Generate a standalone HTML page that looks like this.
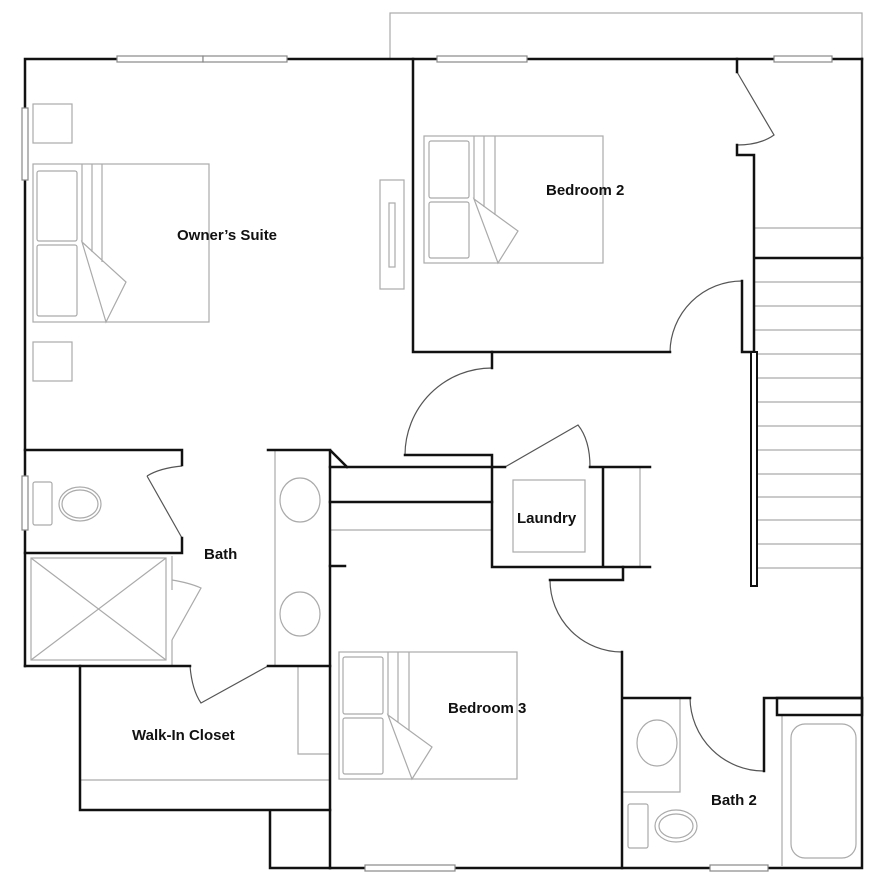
<!DOCTYPE html>
<html><head><meta charset="utf-8"><style>
html,body{margin:0;padding:0;background:#fff;}
svg{display:block}
text{font-family:"Liberation Sans",sans-serif;font-size:15px;font-weight:bold;fill:#111;}
</style></head><body>
<svg width="883" height="889" viewBox="0 0 883 889" xmlns="http://www.w3.org/2000/svg">
<g fill="none" stroke="#aaa" stroke-width="1.2">
<rect x="390" y="13" width="472" height="46"/>
<!-- owner's bed -->
<rect x="33" y="164" width="176" height="158"/>
<rect x="37" y="171" width="40" height="70" rx="2"/>
<rect x="37" y="245" width="40" height="71" rx="2"/>
<path d="M82 164V242M92 164V252M102 164V262M82 242L126 282L106 322Z"/>
<rect x="33" y="104" width="39" height="39"/>
<rect x="33" y="342" width="39" height="39"/>
<rect x="380" y="180" width="24" height="109"/>
<rect x="389" y="203" width="6" height="64"/>
<!-- bed2 -->
<rect x="424" y="136" width="179" height="127"/>
<rect x="429" y="141" width="40" height="57" rx="2"/>
<rect x="429" y="202" width="40" height="56" rx="2"/>
<path d="M474 136V199M484 136V207M495 136V215M474 199L518 231L498 263Z"/>
<!-- bed3 -->
<rect x="339" y="652" width="178" height="127"/>
<rect x="343" y="657" width="40" height="57" rx="2"/>
<rect x="343" y="718" width="40" height="56" rx="2"/>
<path d="M388 652V715M398 652V722M409 652V730M388 715L432 747L412 779Z"/>
<!-- stairs -->
<path d="M754 228H862M754 282H862M754 306H862M754 330H862M754 354H862M754 378H862M754 402H862M754 426H862M754 450H862M754 474H862M754 497H862M754 520H862M754 544H862M754 568H862"/>
<!-- bath -->
<rect x="31" y="558" width="135" height="102"/>
<path d="M31 558L166 660M166 558L31 660"/>
<path d="M172 556V590M172 665V640M172 580Q190 583 201 588L172 640"/>
<rect x="33" y="482" width="19" height="43" rx="2"/>
<ellipse cx="80" cy="504" rx="21" ry="17"/>
<ellipse cx="80" cy="504" rx="18" ry="14"/>
<path d="M275 450V666"/>
<ellipse cx="300" cy="500" rx="20" ry="22"/>
<ellipse cx="300" cy="614" rx="20" ry="22"/>
<path d="M298 666V754H330M80 780H330"/>
<!-- corridor/laundry -->
<path d="M330 530H492M640 467V567"/>
<rect x="513" y="480" width="72" height="72"/>
<!-- bath2 -->
<path d="M680 698V792H622M782 715V866"/>
<ellipse cx="657" cy="743" rx="20" ry="23"/>
<rect x="628" y="804" width="20" height="44" rx="2"/>
<ellipse cx="676" cy="826" rx="21" ry="16"/>
<ellipse cx="676" cy="826" rx="17" ry="12"/>
<rect x="791" y="724" width="65" height="134" rx="14"/>
</g>
<!-- door swings -->
<g fill="none" stroke="#555" stroke-width="1.2">
<path d="M147 476Q160 468 182 466M147 476L182 538"/>
<path d="M190 666Q192 690 201 703L268 666"/>
<path d="M492 368A87 87 0 0 0 405 455"/>
<path d="M505 467L578 425Q590 440 590 467"/>
<path d="M550 580A72 72 0 0 0 622 652"/>
<path d="M742 281A72 72 0 0 0 670 352"/>
<path d="M737 72L774 135Q760 145 737 145"/>
<path d="M690 698A74 74 0 0 0 764 771"/>
</g>
<!-- walls -->
<g fill="none" stroke="#111" stroke-width="2.5" stroke-linecap="square">
<path d="M862 59H25V666"/>
<path d="M862 59V868H330"/>
<path d="M413 59V352H670"/>
<path d="M742 281V352H754"/>
<path d="M737 59V72M737 145V155H754V352M754 258H862"/>
<path d="M25 450H182V465M182 538V553H25"/>
<path d="M25 666H190M268 666H330"/>
<path d="M80 666V810H330M270 810V868H330"/>
<path d="M268 450H330L347 467M330 450V868"/>
<path d="M330 467H492M330 502H492M330 566H345"/>
<path d="M492 352V368M492 455H405M492 455V567H650M603 467V567M492 467H505M590 467H650"/>
<path d="M623 567V580H550"/>
<path d="M622 652V868M622 698H690M764 698V771M764 698H862"/>
<rect x="777" y="698" width="85" height="17"/>
</g>
<rect x="751" y="352" width="6" height="234" fill="#fff" stroke="#111" stroke-width="2"/>
<!-- windows -->
<g fill="#fff" stroke="#888" stroke-width="1.2">
<rect x="117" y="56" width="86" height="6"/><rect x="203" y="56" width="84" height="6"/>
<rect x="437" y="56" width="90" height="6"/><rect x="774" y="56" width="58" height="6"/>
<rect x="22" y="108" width="6" height="72"/><rect x="22" y="476" width="6" height="54"/>
<rect x="365" y="865" width="90" height="6"/><rect x="710" y="865" width="58" height="6"/>
</g>
<text x="177" y="240">Owner’s Suite</text>
<text x="546" y="195">Bedroom 2</text>
<text x="204" y="559">Bath</text>
<text x="517" y="523">Laundry</text>
<text x="448" y="713">Bedroom 3</text>
<text x="132" y="740">Walk-In Closet</text>
<text x="711" y="805">Bath 2</text>
</svg>
</body></html>
